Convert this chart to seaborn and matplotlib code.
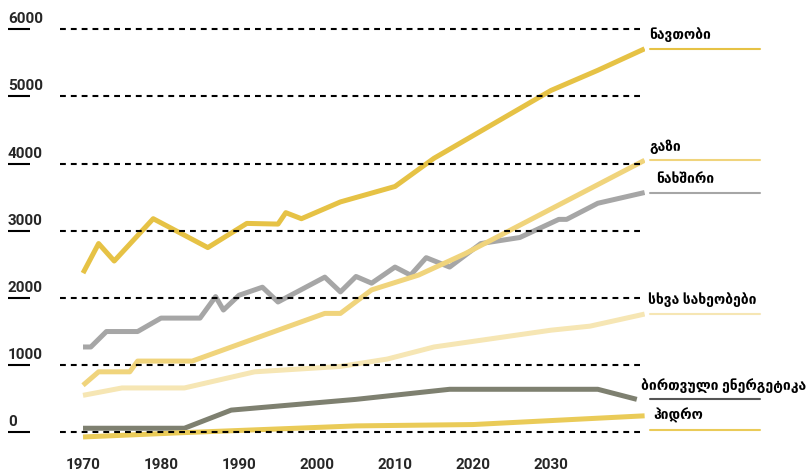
import numpy as np
import pandas as pd
import matplotlib.pyplot as plt
import seaborn as sns

# series (year, value)
oil_years = [1970, 1972, 1974, 1979, 1986, 1991, 1995, 1996, 1998, 2003, 2010, 2015, 2030, 2036, 2042]
oil_vals = [2370, 2810, 2550, 3180, 2750, 3110, 3100, 3270, 3180, 3430, 3660, 4080, 5090, 5390, 5710]

gas_years = [1970, 1972, 1976, 1977, 1984, 2001, 2003, 2007, 2013, 2019, 2042]
gas_vals = [700, 900, 900, 1060, 1060, 1770, 1770, 2120, 2340, 2660, 4050]

coal_years = [1970, 1971, 1973, 1977, 1980, 1985, 1987, 1988, 1990, 1993, 1995, 2001, 2003,
              2005, 2007, 2010, 2012, 2014, 2017, 2021, 2026, 2031, 2032, 2036, 2042]
coal_vals = [1270, 1270, 1500, 1500, 1700, 1700, 2020, 1820, 2040, 2160, 1940, 2310, 2090,
             2320, 2220, 2460, 2340, 2600, 2460, 2810, 2900, 3170, 3170, 3410, 3570]

other_years = [1970, 1975, 1983, 1992, 2003, 2009, 2015, 2030, 2035, 2042]
other_vals = [550, 660, 660, 900, 980, 1090, 1270, 1520, 1580, 1760]

nuclear_years = [1970, 1983, 1989, 2005, 2017, 2036, 2041]
nuclear_vals = [60, 60, 330, 490, 640, 640, 490]

hydro_years = [1970, 1983, 2005, 2020, 2042]
hydro_vals = [-70, -5, 95, 115, 245]

fuels = ["ნავთობი", "გაზი", "ნახშირი", "სხვა სახეობები", "ბირთვული ენერგეტიკა", "ჰიდრო"]
y_ticks = [0, 1000, 2000, 3000, 4000, 5000, 6000]
x_ticks = [1970, 1980, 1990, 2000, 2010, 2020, 2030]

colors = {
    "ნავთობი": "#E6C245",
    "გაზი": "#F0D47C",
    "ნახშირი": "#A6A6A6",
    "სხვა სახეობები": "#F6E6B4",
    "ბირთვული ენერგეტიკა": "#7E8070",
    "ჰიდრო": "#EACB58",
}
label_colors = dict(colors, **{"ბირთვული ენერგეტიკა": "#555555"})

series = {
    "ნავთობი": (oil_years, oil_vals),
    "გაზი": (gas_years, gas_vals),
    "ნახშირი": (coal_years, coal_vals),
    "სხვა სახეობები": (other_years, other_vals),
    "ბირთვული ენერგეტიკა": (nuclear_years, nuclear_vals),
    "ჰიდრო": (hydro_years, hydro_vals),
}
df = pd.concat([pd.DataFrame({"year": y, "value": v, "fuel": f}) for f, (y, v) in series.items()],
               ignore_index=True)

sns.set_style("white")
plt.rcParams['font.family'] = ['Roboto', 'DejaVu Sans']

fig = plt.figure(figsize=(8.1, 4.75), dpi=100)
ax = fig.add_axes([60 / 810, (475 - 445.7) / 475, 585 / 810, (445.7 - 22.6) / 475])

draw_order = ["ნახშირი", "სხვა სახეობები", "ბირთვული ენერგეტიკა", "ჰიდრო", "გაზი", "ნავთობი"]
sns.lineplot(data=df, x="year", y="value", hue="fuel", hue_order=draw_order, palette=colors,
             linewidth=3.6, estimator=None, sort=False, legend=False, ax=ax,
             solid_capstyle="butt")

ax.set_xlim(1967.05, 2042.05)
ax.set_ylim(-200, 6100)
ax.set_xlabel("")
ax.set_ylabel("")
for s in ax.spines.values():
    s.set_visible(False)

ax.set_yticks(y_ticks)
ax.set_yticklabels([])
ax.yaxis.grid(True, color="black", linestyle=(0, (2.8, 2.4)), linewidth=1.5)
ax.xaxis.grid(False)
ax.set_axisbelow(False)
ax.tick_params(axis="y", length=0)

ax.set_xticks(x_ticks)
ax.set_xticklabels([str(x) for x in x_ticks], fontweight="bold", fontsize=11)
ax.tick_params(axis="x", length=0, pad=9)

# y labels sit above their gridline with a short underline
ytrans = ax.get_yaxis_transform()
for v in y_ticks:
    ax.annotate(str(v), xy=(0, v), xycoords=ytrans, xytext=(-52, 6),
                textcoords="offset pixels", ha="left", va="baseline",
                fontweight="bold", fontsize=11)
    ax.hlines(v, -52 / 585, -30 / 585, transform=ytrans, clip_on=False,
              color="black", linewidth=1.5)

# right-hand labels with a short coloured rule at the series end
label_dx = {"ნავთობი": -1, "გაზი": -1, "ნახშირი": 6, "სხვა სახეობები": -2,
            "ბირთვული ენერგეტიკა": -9, "ჰიდრო": 3}
label_dy = {"ჰიდრო": -14}
for f in fuels:
    end_val = series[f][1][-1]
    y_line = ax.transData.transform((2042, end_val))[1] + label_dy.get(f, 0)
    y_frac = ax.transAxes.inverted().transform((0, y_line))[1]
    ax.plot([590 / 585, 700 / 585], [y_frac, y_frac], transform=ax.transAxes,
            clip_on=False, color=label_colors[f], linewidth=1.5)
    ax.annotate(f, xy=(590 / 585, y_frac), xycoords=ax.transAxes,
                xytext=(label_dx[f], 14), textcoords="offset pixels",
                ha="left", va="center", fontsize=10, fontweight="bold", color="black")

fig.savefig("out.png", dpi=100)
